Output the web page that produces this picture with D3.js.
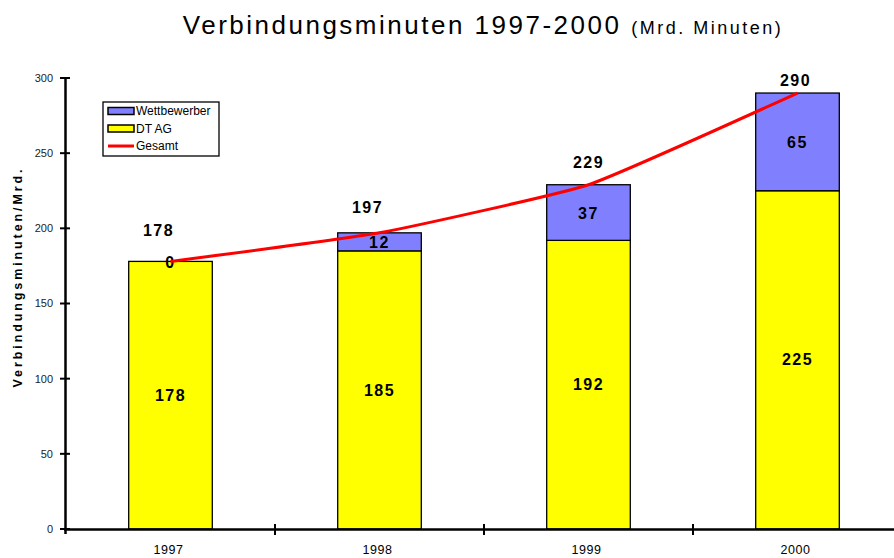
<!DOCTYPE html>
<html>
<head>
<meta charset="utf-8">
<script src="https://cdn.jsdelivr.net/npm/d3@7"></script>
<style>
  body { margin: 0; background: #fff; }
  text { font-family: "Liberation Sans", Arial, sans-serif; }
</style>
</head>
<body>
<div id="chart"></div>
<script>
// data
var years = ["1997", "1998", "1999", "2000"];
var dtag = [178, 185, 192, 225];
var wettbewerber = [0, 12, 37, 65];
var gesamt = [178, 197, 229, 290];
var yTicks = [0, 50, 100, 150, 200, 250, 300];

// label placement for the totals (px above the point, px shift)
var totalDy = [-31, -25, -22, -13];
var totalDx = [-12, -12, 0, -2];

function drawChart(){

    var width = 894,
        height = 558;

    var svg = d3.select('#chart')
        .append('svg')
        .attr('width', width)
        .attr('height', height);

    //scales
    var x = d3.scaleBand()
        .domain(years)
        .range([66, 902])
        .paddingInner(0.6)
        .paddingOuter(0.3);

    var y = d3.scaleLinear()
        .domain([0, 300])
        .range([529, 78]);

    //title
    var title = svg.append('text')
        .attr('x', 483)
        .attr('y', 34)
        .attr('text-anchor', 'middle')
        .style('letter-spacing', '2.5px');
    title.append('tspan')
        .attr('font-size', 26)
        .text('Verbindungsminuten 1997-2000 ');
    title.append('tspan')
        .attr('font-size', 18)
        .text('(Mrd. Minuten)');

    //y axis title
    svg.append('text')
        .attr('transform', 'translate(22,277) rotate(-90)')
        .attr('text-anchor', 'middle')
        .attr('font-size', 12.5)
        .attr('font-weight', 'bold')
        .style('letter-spacing', '2.9px')
        .text('Verbindungsminuten/Mrd.');

    //stacked bars
    var bars = svg.selectAll('.year')
        .data(years)
        .enter()
        .append('g')
        .attr('class', 'year');

    bars.append('rect')
        .attr('x', function(d){ return x(d); })
        .attr('y', function(d, i){ return y(dtag[i]); })
        .attr('width', x.bandwidth())
        .attr('height', function(d, i){ return y(0) - y(dtag[i]); })
        .attr('fill', '#ffff00')
        .attr('stroke', '#000')
        .attr('stroke-width', 1.3);

    bars.append('rect')
        .attr('x', function(d){ return x(d); })
        .attr('y', function(d, i){ return y(gesamt[i]); })
        .attr('width', x.bandwidth())
        .attr('height', function(d, i){ return y(dtag[i]) - y(gesamt[i]); })
        .attr('fill', '#8080ff')
        .attr('stroke', '#000')
        .attr('stroke-width', 1.3);

    //segment labels
    function label(sel){
        sel.attr('text-anchor', 'middle')
            .attr('font-size', 16)
            .attr('font-weight', 'bold')
            .attr('dy', '0.35em')
            .style('letter-spacing', '1.5px');
    }

    bars.append('text')
        .attr('x', function(d){ return x(d) + x.bandwidth() / 2; })
        .attr('y', function(d, i){ return (y(0) + y(dtag[i])) / 2; })
        .call(label)
        .text(function(d, i){ return dtag[i]; });

    bars.append('text')
        .attr('x', function(d){ return x(d) + x.bandwidth() / 2; })
        .attr('y', function(d, i){ return (y(dtag[i]) + y(gesamt[i])) / 2 + 1; })
        .call(label)
        .text(function(d, i){ return wettbewerber[i]; });

    //axes
    var yAxis = svg.append('g');
    yAxis.append('line')
        .attr('x1', 65.5).attr('x2', 65.5)
        .attr('y1', y(300)).attr('y2', y(0) + 5)
        .attr('stroke', '#000').attr('stroke-width', 2.5);
    yAxis.selectAll('.tick')
        .data(yTicks)
        .enter()
        .append('line')
        .attr('x1', 60).attr('x2', 70)
        .attr('y1', function(d){ return y(d); })
        .attr('y2', function(d){ return y(d); })
        .attr('stroke', '#000').attr('stroke-width', 2);
    yAxis.selectAll('.tl')
        .data(yTicks)
        .enter()
        .append('text')
        .attr('x', 53)
        .attr('y', function(d){ return y(d); })
        .attr('dy', '0.35em')
        .attr('text-anchor', 'end')
        .attr('font-size', 11)
        .attr('fill', '#222')
        .text(function(d){ return d; });

    var xAxis = svg.append('g');
    xAxis.append('line')
        .attr('x1', 64).attr('x2', width)
        .attr('y1', y(0) + 0.5).attr('y2', y(0) + 0.5)
        .attr('stroke', '#000').attr('stroke-width', 2.5);
    xAxis.selectAll('.tick')
        .data(years.slice(1))
        .enter()
        .append('line')
        .attr('x1', function(d){ return x(d) - x.step() * x.paddingInner() / 2; })
        .attr('x2', function(d){ return x(d) - x.step() * x.paddingInner() / 2; })
        .attr('y1', y(0) - 5).attr('y2', y(0) + 6)
        .attr('stroke', '#000').attr('stroke-width', 2);
    xAxis.selectAll('.tl')
        .data(years)
        .enter()
        .append('text')
        .attr('x', function(d){ return x(d) + x.bandwidth() / 2 - 2; })
        .attr('y', 554)
        .attr('text-anchor', 'middle')
        .attr('font-size', 12.5)
        .style('letter-spacing', '0.5px')
        .text(function(d){ return d; });

    //gesamt line
    var line = d3.line()
        .x(function(d, i){ return x(years[i]) + x.bandwidth() / 2; })
        .y(function(d){ return y(d); })
        .curve(d3.curveCardinal.tension(0.6));

    svg.append('path')
        .datum(gesamt)
        .attr('d', line)
        .attr('fill', 'none')
        .attr('stroke', '#ff0000')
        .attr('stroke-width', 3);

    //total labels
    svg.selectAll('.total')
        .data(gesamt)
        .enter()
        .append('text')
        .attr('x', function(d, i){ return x(years[i]) + x.bandwidth() / 2 + totalDx[i]; })
        .attr('y', function(d, i){ return y(d) + totalDy[i]; })
        .call(label)
        .text(function(d){ return d; });

    //legend
    var legend = svg.append('g').attr('transform', 'translate(103,102)');
    legend.append('rect')
        .attr('width', 116).attr('height', 54)
        .attr('fill', '#fff').attr('stroke', '#000').attr('stroke-width', 1.3);

    var items = [
        { name: 'Wettbewerber', color: '#8080ff', type: 'rect' },
        { name: 'DT AG', color: '#ffff00', type: 'rect' },
        { name: 'Gesamt', color: '#ff0000', type: 'line' }
    ];
    var entry = legend.selectAll('.entry')
        .data(items)
        .enter()
        .append('g')
        .attr('transform', function(d, i){ return 'translate(0,' + (9 + i * 17.5) + ')'; });

    entry.filter(function(d){ return d.type === 'rect'; })
        .append('rect')
        .attr('x', 5).attr('y', -3.5)
        .attr('width', 26).attr('height', 7)
        .attr('fill', function(d){ return d.color; })
        .attr('stroke', '#000').attr('stroke-width', 1.5);
    entry.filter(function(d){ return d.type === 'line'; })
        .append('line')
        .attr('x1', 5).attr('x2', 31)
        .attr('stroke', function(d){ return d.color; })
        .attr('stroke-width', 3);
    entry.append('text')
        .attr('x', 33)
        .attr('dy', '0.35em')
        .attr('font-size', 12)
        .text(function(d){ return d.name; });
}

drawChart();
</script>
</body>
</html>
